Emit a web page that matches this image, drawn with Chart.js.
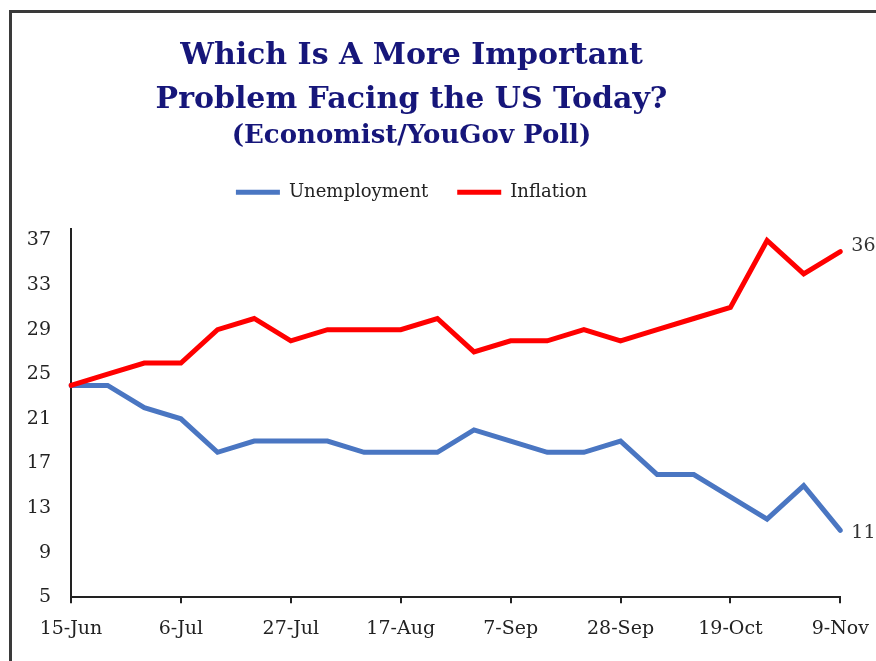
<!DOCTYPE html>
<html>
<head>
<meta charset="utf-8">
<script src="https://cdn.jsdelivr.net/npm/chart.js@4.4.1/dist/chart.umd.min.js"></script>
<style>
  html, body { margin: 0; padding: 0; background: #ffffff; overflow: hidden; width: 876px; height: 661px; }
  #frame { position: absolute; left: 9px; top: 10px; width: 900px; height: 700px; border-left: 3px solid #3a3a3a; border-top: 3px solid #3a3a3a; pointer-events: none; }
  #c { position: absolute; left: -20px; top: 0; }
</style>
</head>
<body>
<canvas id="c" width="903" height="661"></canvas>
<div id="frame"></div>
<script>
const weeks = ['15-Jun','22-Jun','29-Jun','6-Jul','13-Jul','20-Jul','27-Jul','3-Aug','10-Aug','17-Aug','24-Aug','31-Aug','7-Sep','14-Sep','21-Sep','28-Sep','5-Oct','12-Oct','19-Oct','26-Oct','2-Nov','9-Nov'];
const unemployment = [24,24,22,21,18,19,19,19,18,18,18,20,19,18,18,19,16,16,14,12,15,11];
const inflation = [24,25,26,26,29,30,28,29,29,29,30,27,28,28,29,28,29,30,31,37,34,36];
const xTickLabels = ['15-Jun','6-Jul','27-Jul','17-Aug','7-Sep','28-Sep','19-Oct','9-Nov'];
const yTicks = [5,9,13,17,21,25,29,33,37];
const titleLines = ['Which Is A More Important','Problem Facing the US Today?'];
const subtitleText = '(Economist/YouGov Poll)';

const endLabels = {
  id: 'endLabels',
  afterDatasetsDraw(chart) {
    const ctx = chart.ctx;
    ctx.save();
    ctx.font = '19px "DejaVu Serif"';
    ctx.fillStyle = '#333333';
    ctx.textAlign = 'left';
    ctx.textBaseline = 'middle';
    chart.data.datasets.forEach((ds, i) => {
      const meta = chart.getDatasetMeta(i);
      const last = meta.data[meta.data.length - 1];
      const dy = ds.label === 'Inflation' ? -6 : 3;
      ctx.fillText(String(ds.data[ds.data.length - 1]), last.x + 11, last.y + dy);
    });
    ctx.restore();
  }
};

new Chart(document.getElementById('c'), {
  type: 'line',
  data: {
    labels: weeks,
    datasets: [
      { label: 'Unemployment', data: unemployment, borderColor: '#4a76c2', backgroundColor: '#4a76c2', borderWidth: 5, pointRadius: 0, pointStyle: 'line', tension: 0, fill: false, order: 1, borderCapStyle: 'round' },
      { label: 'Inflation', data: inflation, borderColor: '#ff0000', backgroundColor: '#ff0000', borderWidth: 5, pointRadius: 0, pointStyle: 'line', tension: 0, fill: false, order: 0, borderCapStyle: 'round' }
    ]
  },
  options: {
    responsive: false,
    animation: false,
    devicePixelRatio: 1,
    layout: { padding: { left: 0, right: 40, top: 0, bottom: 7 } },
    plugins: {
      tooltip: { enabled: false },
      title: {
        display: true,
        text: titleLines,
        color: '#16167a',
        font: { family: 'DejaVu Serif', size: 30, weight: 'bold', lineHeight: 1.47 },
        padding: { top: 34, bottom: 0 }
      },
      subtitle: {
        display: true,
        text: subtitleText,
        color: '#16167a',
        font: { family: 'DejaVu Serif', size: 26, weight: 'bold', lineHeight: 1.1 },
        padding: { top: 0, bottom: 3.5 }
      },
      legend: {
        display: true,
        position: 'top',
        labels: {
          usePointStyle: true,
          pointStyleWidth: 44,
          padding: 29,
          color: '#222222',
          font: { family: 'DejaVu Serif', size: 18 },
          sort: (a, b) => a.datasetIndex - b.datasetIndex
        }
      }
    },
    scales: {
      x: {
        type: 'category',
        offset: false,
        grid: { display: true, drawOnChartArea: false, drawTicks: true, tickLength: 6, color: '#222222', lineWidth: 2 },
        border: { display: true, color: '#222222', width: 2 },
        ticks: {
          autoSkip: false,
          maxRotation: 0,
          minRotation: 0,
          padding: 14,
          color: '#222222',
          font: { family: 'DejaVu Serif', size: 19 },
          callback: function(value, index) {
            const lab = this.getLabelForValue(value);
            return xTickLabels.includes(lab) ? lab : null;
          }
        }
      },
      xTop: {
        type: 'category',
        position: 'top',
        display: true,
        grid: { display: false },
        border: { display: false },
        ticks: { display: false },
        afterFit: (s) => { s.height = 18; }
      },
      y: {
        min: 5,
        max: 38,
        grid: { display: true, drawOnChartArea: false, drawTicks: false },
        border: { display: true, color: '#222222', width: 2 },
        afterBuildTicks: (s) => { s.ticks = yTicks.map(v => ({ value: v })); },
        afterFit: (s) => { s.width = 91; },
        ticks: {
          padding: 20,
          color: '#222222',
          font: { family: 'DejaVu Serif', size: 19 }
        }
      }
    }
  },
  plugins: [endLabels]
});
</script>
</body>
</html>
